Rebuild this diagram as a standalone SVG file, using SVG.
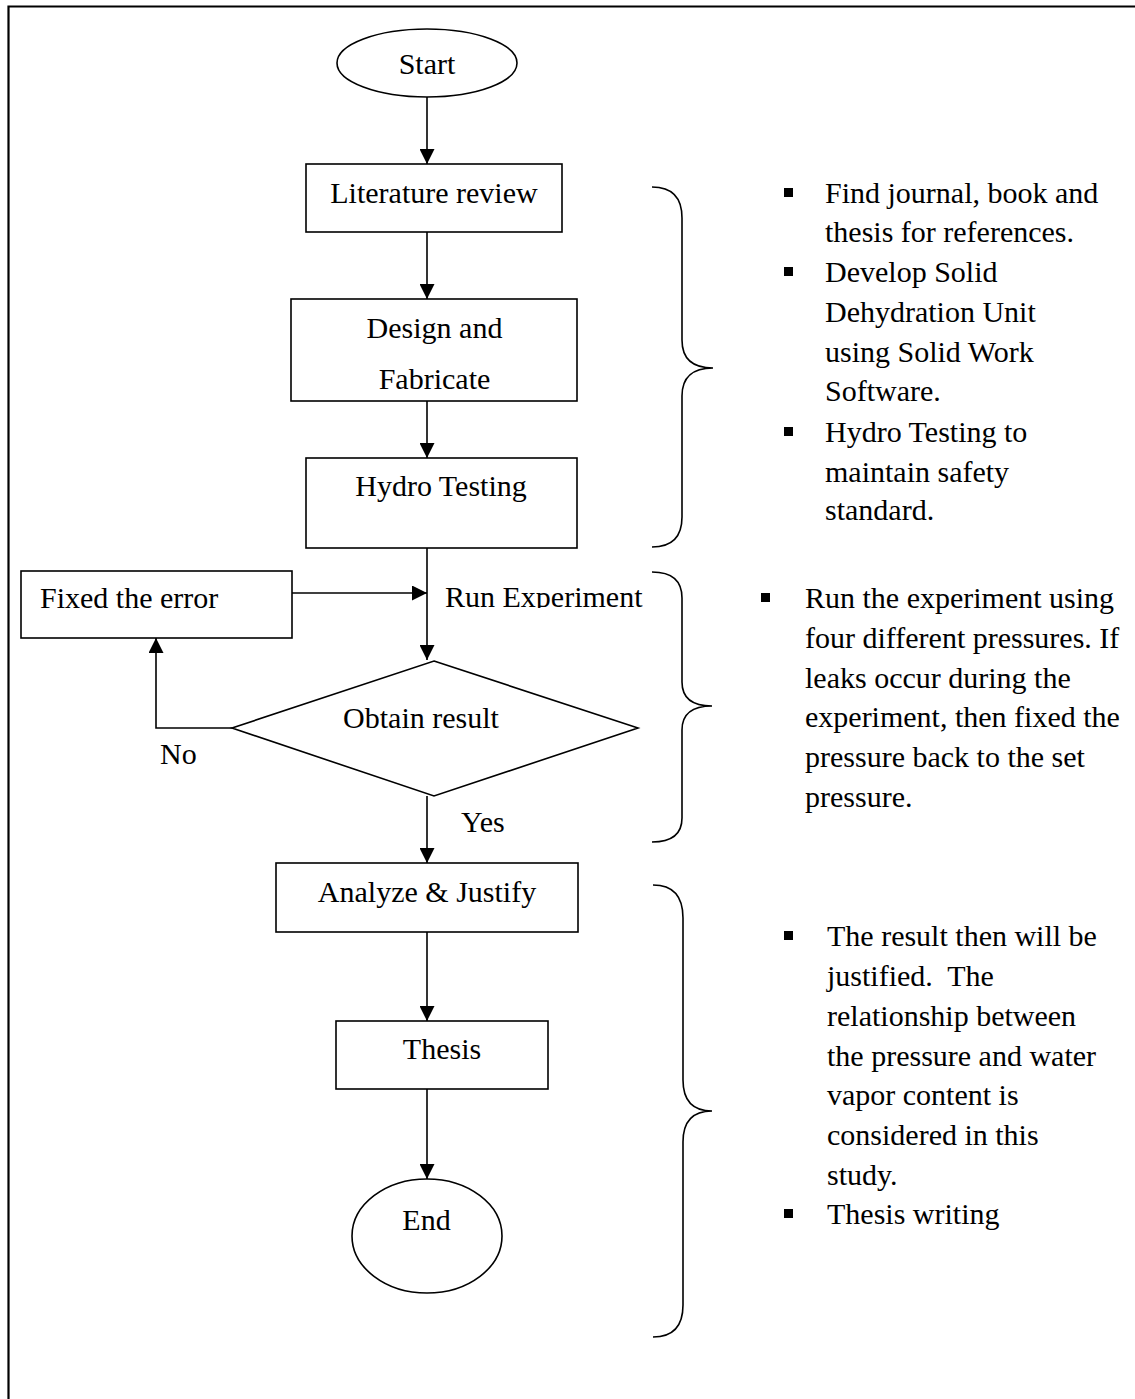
<svg xmlns="http://www.w3.org/2000/svg" width="1135" height="1399" viewBox="0 0 1135 1399">
<style>
  text { font-family: "Liberation Serif", "Times New Roman", serif; font-size: 30px; fill: #000; }
  .mid { text-anchor: middle; }
  .shape { fill: #fff; stroke: #000; stroke-width: 1.6; }
  .line { fill: none; stroke: #000; stroke-width: 1.6; }
  .brace { fill: none; stroke: #000; stroke-width: 1.6; }
  .frame { fill: none; stroke: #000; stroke-width: 2.2; }
  .bullet { fill: #000; }
</style>
<defs>
  <marker id="arrow" viewBox="0 0 15 15" refX="15" refY="7.5" markerWidth="15" markerHeight="15" markerUnits="userSpaceOnUse" orient="auto">
    <path d="M0,0 L15,7.5 L0,15 Z" fill="#000"/>
  </marker>
  <clipPath id="clipRun">
    <rect x="430" y="570" width="240" height="38"/>
  </clipPath>
</defs>
<rect width="1135" height="1399" fill="#fff"/>
<g id="frame">
  <path class="frame" d="M8.5,1399 L8.5,6.5 L1135,6.5"/>
</g>

<g id="connectors">
  <line class="line" x1="427" y1="97" x2="427" y2="164" marker-end="url(#arrow)"/>
  <line class="line" x1="427" y1="232" x2="427" y2="299" marker-end="url(#arrow)"/>
  <line class="line" x1="427" y1="401" x2="427" y2="458" marker-end="url(#arrow)"/>
  <line class="line" x1="427" y1="548" x2="427" y2="660" marker-end="url(#arrow)"/>
  <line class="line" x1="292" y1="593" x2="427" y2="593" marker-end="url(#arrow)"/>
  <polyline class="line" points="232,728 156,728 156,638" marker-end="url(#arrow)"/>
  <line class="line" x1="427" y1="796" x2="427" y2="863" marker-end="url(#arrow)"/>
  <line class="line" x1="427" y1="932" x2="427" y2="1021" marker-end="url(#arrow)"/>
  <line class="line" x1="427" y1="1089" x2="427" y2="1179" marker-end="url(#arrow)"/>
  <text x="445" y="607" clip-path="url(#clipRun)">Run Experiment</text>
  <text x="160" y="764">No</text>
  <text x="461" y="832">Yes</text>
</g>

<g id="start">
  <ellipse class="shape" cx="427" cy="63" rx="90" ry="34"/>
  <text class="mid" x="427" y="74">Start</text>
</g>
<g id="literature-review">
  <rect class="shape" x="306" y="164" width="256" height="68"/>
  <text class="mid" x="434" y="203">Literature review</text>
</g>
<g id="design-fabricate">
  <rect class="shape" x="291" y="299" width="286" height="102"/>
  <text class="mid" x="434.5" y="338">Design and</text>
  <text class="mid" x="434.5" y="389">Fabricate</text>
</g>
<g id="hydro-testing">
  <rect class="shape" x="306" y="458" width="271" height="90"/>
  <text class="mid" x="441" y="496">Hydro Testing</text>
</g>
<g id="fixed-error">
  <rect class="shape" x="21" y="571" width="271" height="67"/>
  <text x="40" y="608">Fixed the error</text>
</g>
<g id="obtain-result">
  <polygon class="shape" points="434,661 638,728 434,796 232,728"/>
  <text class="mid" x="421" y="728">Obtain result</text>
</g>
<g id="analyze-justify">
  <rect class="shape" x="276" y="863" width="302" height="69"/>
  <text class="mid" x="427" y="902">Analyze &amp; Justify</text>
</g>
<g id="thesis">
  <rect class="shape" x="336" y="1021" width="212" height="68"/>
  <text class="mid" x="442" y="1059">Thesis</text>
</g>
<g id="end">
  <ellipse class="shape" cx="427" cy="1236" rx="75" ry="57"/>
  <text class="mid" x="426.5" y="1230">End</text>
</g>

<g id="notes-1">
  <path class="brace" d="M652,187 Q682,187 682,218 L682,340 Q682,368 713,368 Q682,368 682,396 L682,517 Q682,547 652,547"/>
  <rect class="bullet" x="784" y="188" width="9" height="9"/>
  <rect class="bullet" x="784" y="267" width="9" height="9"/>
  <rect class="bullet" x="784" y="427" width="9" height="9"/>
  <text x="825" y="203">Find journal, book and</text>
  <text x="825" y="242">thesis for references.</text>
  <text x="825" y="282">Develop Solid</text>
  <text x="825" y="322">Dehydration Unit</text>
  <text x="825" y="362">using Solid Work</text>
  <text x="825" y="401">Software.</text>
  <text x="825" y="442">Hydro Testing to</text>
  <text x="825" y="482">maintain safety</text>
  <text x="825" y="520">standard.</text>
</g>
<g id="notes-2">
  <path class="brace" d="M652,572 Q682,572 682,598 L682,682 Q682,706 712,706 Q682,706 682,730 L682,818 Q682,842 652,842"/>
  <rect class="bullet" x="761" y="593" width="9" height="9"/>
  <text x="805" y="608">Run the experiment using</text>
  <text x="805" y="648">four different pressures. If</text>
  <text x="805" y="688">leaks occur during the</text>
  <text x="805" y="727">experiment, then fixed the</text>
  <text x="805" y="767">pressure back to the set</text>
  <text x="805" y="807">pressure.</text>
</g>
<g id="notes-3">
  <path class="brace" d="M653,885 Q683,885 683,918 L683,1080 Q683,1111 712,1111 Q683,1111 683,1142 L683,1305 Q683,1337 653,1337"/>
  <rect class="bullet" x="784" y="931" width="9" height="9"/>
  <rect class="bullet" x="784" y="1209" width="9" height="9"/>
  <text x="827" y="946">The result then will be</text>
  <text x="827" y="986" xml:space="preserve">justified.  The</text>
  <text x="827" y="1026">relationship between</text>
  <text x="827" y="1066">the pressure and water</text>
  <text x="827" y="1105">vapor content is</text>
  <text x="827" y="1145">considered in this</text>
  <text x="827" y="1185">study.</text>
  <text x="827" y="1224">Thesis writing</text>
</g>
</svg>
